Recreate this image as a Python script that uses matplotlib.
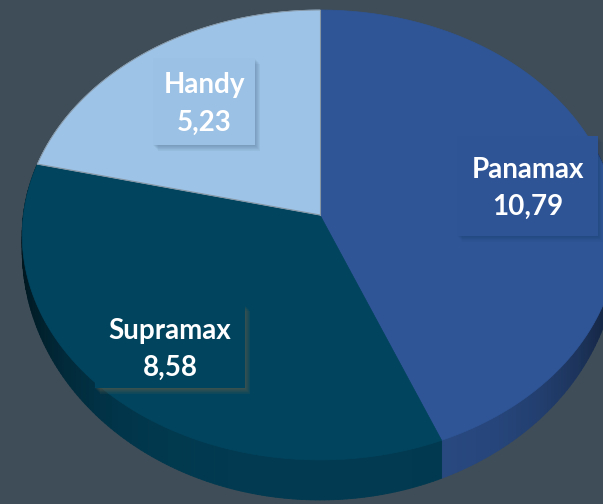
import numpy as np
import matplotlib.pyplot as plt
from matplotlib.patches import Polygon, Rectangle
from matplotlib.collections import PolyCollection
from matplotlib.colors import to_rgb

labels = ['Panamax', 'Supramax', 'Handy']
values = [10.79, 8.58, 5.23]
value_text = ['10,79', '8,58', '5,23']
colors = ['#2f5597', '#01445e', '#9dc3e6']

bg = '#3e4d58'

# perspective ellipse of the pie (pixels, y down)
cx, cy = 320., 215.
A, B, d = 3340., 2513., 11.26
depth = 40.

def proj(t, r=1.0, z=0.0):
    u = r*np.sin(t)
    v = r*np.cos(t)
    den = d + v
    x = cx + A*u/den
    y = cy - B*v/den + z*depth*(0.3 + 0.7*np.maximum(0.0, -v))
    return x, y

fig = plt.figure(figsize=(6.03, 5.04), dpi=100, facecolor=bg)
ax = fig.add_axes([0, 0, 1, 1])
ax.set_xlim(0, 603)
ax.set_ylim(504, 0)
ax.axis('off')
ax.set_facecolor(bg)

total = sum(values)
edges = np.concatenate([[0], np.cumsum(values)]) / total * 2*np.pi

# side wall
quads, qcols = [], []
for i in range(len(values)):
    t = np.linspace(edges[i], edges[i+1], 160)
    base = np.array(to_rgb(colors[i]))
    for a0, a1 in zip(t[:-1], t[1:]):
        if np.cos((a0+a1)/2) > 0.3:
            continue
        x0, y0 = proj(a0); x1, y1 = proj(a1)
        x2, y2 = proj(a1, z=1); x3, y3 = proj(a0, z=1)
        quads.append([(x0, y0), (x1, y1), (x2, y2), (x3, y3)])
        u = abs(np.sin((a0+a1)/2))
        f = 0.86 - 0.55*u**4
        c = np.clip(base*f, 0, 1)
        qcols.append(c)
ax.add_collection(PolyCollection(quads, facecolors=qcols, edgecolors=qcols, linewidths=0.6))

# top faces
for i in range(len(values)):
    t = np.linspace(edges[i], edges[i+1], 200)
    xs, ys = proj(t)
    pts = [(cx, cy)] + list(zip(xs, ys))
    ax.add_patch(Polygon(pts, closed=True, facecolor=colors[i], edgecolor=colors[i], lw=0.5))

# thin lines around the light slice
for a in (edges[2], edges[3]):
    x, y = proj(a)
    ax.plot([cx, x], [cy, y], color='#8796a3', lw=0.8)
t = np.linspace(edges[2], edges[3], 100)
xs, ys = proj(t)
ax.plot(xs, ys, color='#8796a3', lw=0.6)

# label boxes (x0, y0, x1, y1) and shadow colours
boxes = [(457, 136, 598, 236), (95, 305, 245, 388), (153, 58, 255, 145)]
box_fill = ['#2e5495', '#01445e', '#9bc1e4']
shadow = ['#22396a', '#7a6a45', '#5f7f9e']
shadow_alpha = [0.035, 0.06, 0.06]
for i in range(len(values)):
    x0, y0, x1, y1 = boxes[i]
    for k in range(1, 12):
        ax.add_patch(Rectangle((x0 + k*0.45, y0 + k*0.55), x1 - x0, y1 - y0,
                               facecolor=shadow[i], edgecolor='none', alpha=shadow_alpha[i]))
    ax.add_patch(Rectangle((x0, y0), x1 - x0, y1 - y0, facecolor=box_fill[i], edgecolor='none'))
    xm = (x0 + x1) / 2
    ym = (y0 + y1) / 2
    ax.text(xm, ym - 8, labels[i], ha='center', va='baseline', color='white',
            fontsize=20, fontweight='bold', family='Lato')
    ax.text(xm, ym + 29, value_text[i], ha='center', va='baseline', color='white',
            fontsize=20, fontweight='bold', family='Lato')

fig.savefig('out.png', dpi=100, facecolor=bg)
